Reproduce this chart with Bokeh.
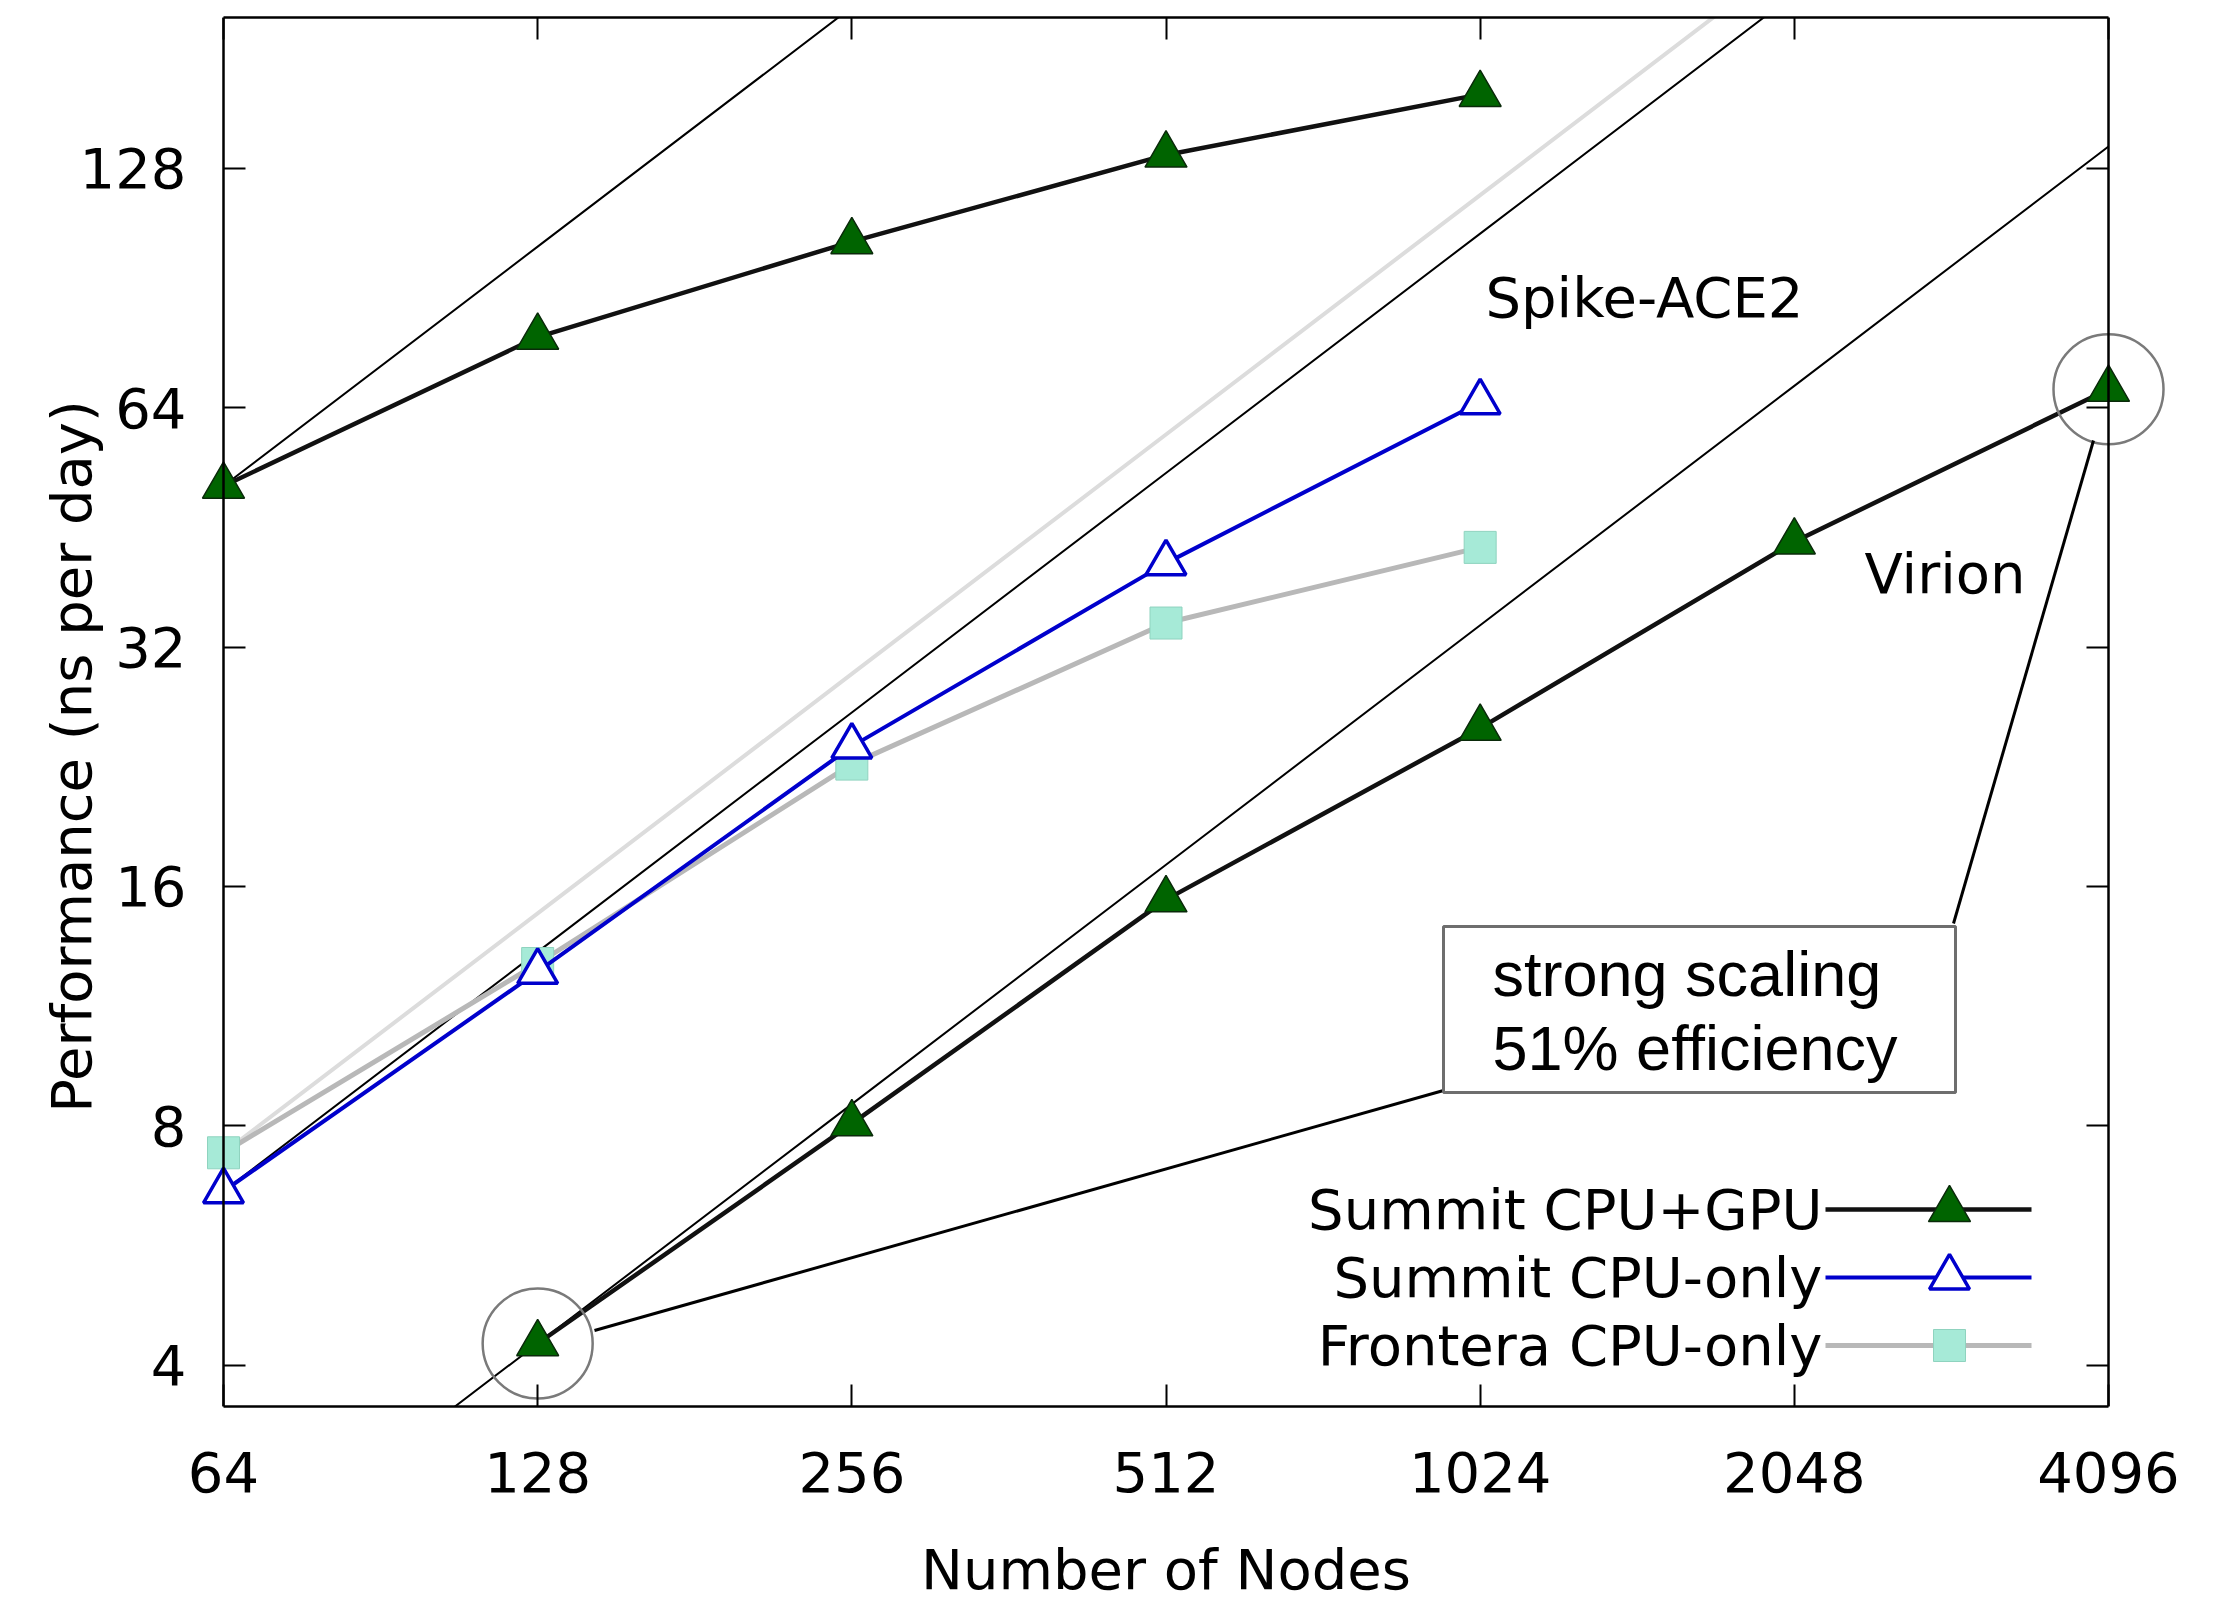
from bokeh.plotting import figure
from bokeh.models import (Range1d, LogAxis, FixedTicker, PrintfTickFormatter,
                          CustomLabelingPolicy)
from bokeh.core.properties import value
from bokeh.embed import file_html
from bokeh.resources import INLINE

# ---------------- data ----------------
nodes_spike = [64, 128, 256, 512, 1024]
spike_summit_gpu = [51.0, 78.5, 103.5, 133.0, 158.5]
spike_summit_cpu = [6.62, 12.5, 24.0, 40.8, 65.0]
spike_frontera_cpu = [7.4, 12.8, 22.8, 34.3, 42.7]

nodes_virion = [128, 256, 512, 1024, 2048, 4096]
virion_summit_gpu = [4.26, 8.05, 15.4, 25.3, 43.4, 67.5]

x_ticks = [64, 128, 256, 512, 1024, 2048, 4096]
x_tick_labels = ["64", "128", "256", "512", "1024", "2048", "4096"]
y_ticks = [4, 8, 16, 32, 64, 128]
y_tick_labels = ["4", "8", "16", "32", "64", "128"]

series_labels = ["Summit CPU+GPU", "Summit CPU-only", "Frontera CPU-only"]
system_labels = ["Spike-ACE2", "Virion"]
box_lines = ["strong scaling", "51% efficiency"]

# ---------------- layout ----------------
X0, X1 = 64, 4096          # axis box (frame border) in data units
Y0, Y1 = 3.55, 198
BW, FH = 1885, 1389        # axis box size in px
PAD = 62                   # extra drawing room left/right so edge marks are not clipped
OCT = BW / 6.0             # px per doubling on x
FONT = "DejaVu Sans"
FS = "56px"


def fx(px):
    return X0 * 2 ** (px / OCT)


def fy(py):
    return Y0 * (Y1 / Y0) ** (1 - py / FH)


p = figure(x_axis_type="log", y_axis_type="log",
           x_range=Range1d(fx(-PAD), fx(BW + PAD)), y_range=Range1d(Y0, Y1),
           frame_width=BW + 2 * PAD, frame_height=FH,
           min_border_left=223 - PAD, min_border_right=44,
           min_border_top=17, min_border_bottom=199,
           output_backend="svg", toolbar_location=None)
p.xgrid.visible = False
p.ygrid.visible = False
p.outline_line_color = None
p.background_fill_color = "white"
p.border_fill_color = "white"

ax_x = p.xaxis[0]
ax_y = p.yaxis[0]
ax_x.ticker = FixedTicker(ticks=x_ticks)
ax_y.ticker = FixedTicker(ticks=y_ticks)
ax_x.formatter = PrintfTickFormatter(format="%d")
ax_y.formatter = PrintfTickFormatter(format="%d")
ax_x.major_label_overrides = {t: l for t, l in zip(x_ticks, x_tick_labels)}
ax_y.major_label_overrides = {t: l for t, l in zip(y_ticks, y_tick_labels)}
ax_x.bounds = (X0, X1)
ax_x.axis_label = "Number of Nodes"
ax_y.axis_label = "Performance (ns per day)     "
for ax in (ax_x, ax_y):
    ax.major_tick_in = 22
    ax.major_tick_out = 0
    ax.minor_tick_in = 0
    ax.minor_tick_out = 0
    ax.major_tick_line_width = 2
    ax.axis_line_width = 2.5
    ax.major_label_text_font = FONT
    ax.major_label_text_font_size = FS
    ax.major_label_text_color = "black"
    ax.axis_label_text_font = FONT
    ax.axis_label_text_font_size = FS
    ax.axis_label_text_font_style = "normal"
    ax.axis_label_text_color = "black"
ax_x.major_label_standoff = 45
ax_x.axis_label_standoff = 42
# the default left axis sits at the padded frame edge: it carries only the labels
ax_y.axis_line_color = None
ax_y.major_tick_line_color = None
ax_y.major_label_standoff = 37 - PAD
ax_y.axis_label_standoff = -27

no_labels = CustomLabelingPolicy(code="return []")


def bare_axis(ticks, **kw):
    return LogAxis(ticker=FixedTicker(ticks=ticks), major_label_policy=no_labels,
                   major_tick_in=22, major_tick_out=0, minor_tick_in=0, minor_tick_out=0,
                   major_label_standoff=0, axis_line_width=2.5, major_tick_line_width=2, **kw)


p.add_layout(bare_axis(x_ticks, bounds=(X0, X1)), "above")
p.add_layout(bare_axis(y_ticks, fixed_location=X1), "right")
p.add_layout(bare_axis(y_ticks, fixed_location=X0), "left")

# ideal-scaling reference lines (performance proportional to nodes)
ideal_x = x_ticks
p.line(ideal_x, [spike_frontera_cpu[0] * x / nodes_spike[0] for x in ideal_x],
       line_color="#dcdcdc", line_width=4)
p.line(ideal_x, [spike_summit_gpu[0] * x / nodes_spike[0] for x in ideal_x],
       line_color="black", line_width=2)
p.line(ideal_x, [spike_summit_cpu[0] * x / nodes_spike[0] for x in ideal_x],
       line_color="black", line_width=2)
p.line(ideal_x, [virion_summit_gpu[0] * x / nodes_virion[0] for x in ideal_x],
       line_color="black", line_width=2)

GREEN = "#006400"
BLUE = "#0000cc"
GREY = "#b8b8b8"
AQUA = "#a6ead7"
DARK = "#111111"

# data series
p.line(nodes_spike, spike_frontera_cpu, line_color=GREY, line_width=5)
p.scatter(nodes_spike, spike_frontera_cpu, marker="square", size=32,
          fill_color=AQUA, line_color="#8fd3bf", line_width=1)
p.line(nodes_spike, spike_summit_cpu, line_color=BLUE, line_width=4)
p.scatter(nodes_spike, spike_summit_cpu, marker="triangle", size=40,
          fill_color="white", line_color=BLUE, line_width=3.5)
p.line(nodes_spike, spike_summit_gpu, line_color=DARK, line_width=4.5)
p.scatter(nodes_spike, spike_summit_gpu, marker="triangle", size=42,
          fill_color=GREEN, line_color="#0a2a0a", line_width=1.5)
p.line(nodes_virion, virion_summit_gpu, line_color=DARK, line_width=4.5)
p.scatter(nodes_virion, virion_summit_gpu, marker="triangle", size=42,
          fill_color=GREEN, line_color="#0a2a0a", line_width=1.5)

# circles around first/last virion points
p.scatter([nodes_virion[0], nodes_virion[-1]], [virion_summit_gpu[0], virion_summit_gpu[-1]],
          marker="circle", size=110, fill_color=None, line_color="#7a7a7a", line_width=2.5)

# annotation box with connectors
p.line([fx(1220), fx(371)], [fy(1073), fy(1313)], line_color="black", line_width=3)
p.line([fx(1730), fx(1870)], [fy(906), fy(423)], line_color="black", line_width=3)
p.quad(left=[fx(1220)], right=[fx(1732)], top=[fy(909)], bottom=[fy(1075)],
       fill_color="white", line_color="#6e6e6e", line_width=3)
p.text([fx(1269), fx(1269)], [fy(956), fy(1030)], text=box_lines,
       text_font=value("Liberation Sans"), text_font_size=value("63px"),
       text_align="left", text_baseline="middle", text_color="black")

# system labels
p.text([fx(1262), fx(1641)], [fy(280), fy(556)], text=system_labels,
       text_font=value(FONT), text_font_size=value(FS),
       text_align="left", text_baseline="middle", text_color="black")

# manual legend (labels left, samples right)
leg_rows = [1192, 1260, 1328]
p.text([fx(1599)] * 3, [fy(r) for r in leg_rows], text=series_labels,
       text_font=value(FONT), text_font_size=value(FS),
       text_align="right", text_baseline="middle", text_color="black")
lx0, lx1, lm = fx(1602), fx(1808), fx(1726)
p.line([lx0, lx1], [fy(leg_rows[0])] * 2, line_color=DARK, line_width=4.5)
p.scatter([lm], [fy(leg_rows[0])], marker="triangle", size=42,
          fill_color=GREEN, line_color="#0a2a0a", line_width=1.5)
p.line([lx0, lx1], [fy(leg_rows[1])] * 2, line_color=BLUE, line_width=4)
p.scatter([lm], [fy(leg_rows[1])], marker="triangle", size=40,
          fill_color="white", line_color=BLUE, line_width=3.5)
p.line([lx0, lx1], [fy(leg_rows[2])] * 2, line_color=GREY, line_width=5)
p.scatter([lm], [fy(leg_rows[2])], marker="square", size=32,
          fill_color=AQUA, line_color="#8fd3bf", line_width=1)

open("out.html", "w").write(file_html(p, INLINE))
